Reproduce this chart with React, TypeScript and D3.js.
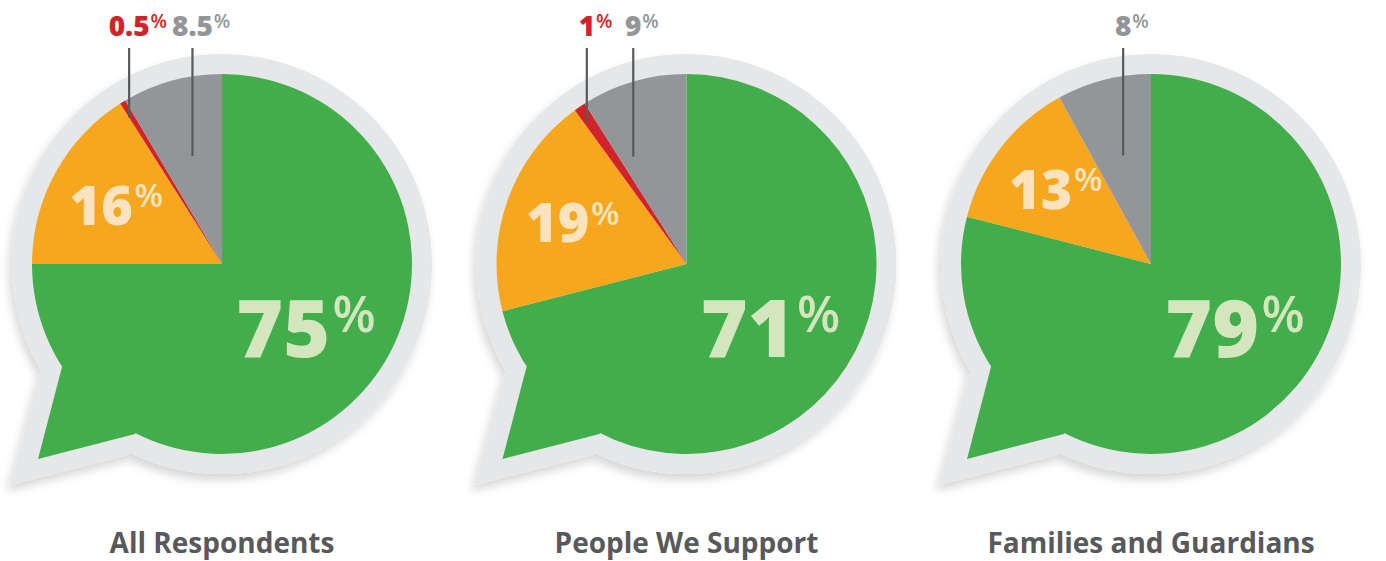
import React, { useEffect, useRef } from "react";
import * as d3 from "d3";

// ---- data ----
const CATEGORIES = ["All Respondents", "People We Support", "Families and Guardians"];
const GREEN_VALUES = [75, 71, 79];
const ORANGE_VALUES = [16, 19, 13];
const RED_VALUES = [0.5, 1, 0];
const GRAY_VALUES = [8.5, 9, 8];

// ---- style / layout ----
const W = 1386;
const H = 561;
const CY = 264;
const R = 190;
const RB = 210;
const COLORS = ["#41ae4b", "#f6a71e", "#d2232a", "#939598"];
const BUBBLE = "#e6e7e8";
const DARK = "#58595b";
const FONT = "'Open Sans', 'Noto Sans', sans-serif";
const TAIL_OUTER: [number, number][] = [[-182, 110], [-212, 221], [-94, 191], [0, 0]];
const TAIL_INNER: [number, number][] = [[-160, 103], [-184, 195], [-87, 170], [0, 0]];
const GRAY_LEADER_NUDGE = [0, -22, 0];

export default function App() {
  const ref = useRef<SVGSVGElement | null>(null);

  useEffect(() => {
    document.body.style.margin = "0";
    const svg = d3.select(ref.current);
    svg.selectAll("*").remove();

    const defs = svg.append("defs");
    const f = defs.append("filter").attr("id", "shadow").attr("x", "-20%").attr("y", "-20%").attr("width", "140%").attr("height", "140%");
    f.append("feDropShadow").attr("dx", -3).attr("dy", 6).attr("stdDeviation", 5).attr("flood-color", "#000").attr("flood-opacity", 0.16);

    const x = d3.scalePoint<string>().domain(CATEGORIES).range([222, 1151]);
    const pie = d3.pie<number>().sort(null).value((d) => d);
    const arc = d3.arc<d3.PieArcDatum<number>>().innerRadius(0).outerRadius(R);
    const line = d3.line();

    const drawLabel = (
      g: any, cx: number, baseline: number, num: string, numSize: number, pctSize: number,
      color: string, mode: "group" | "number"
    ) => {
      const t = g.append("text").text(num).attr("font-family", FONT).attr("font-weight", 800)
        .attr("font-size", numSize).attr("fill", color).attr("y", baseline);
      const p = g.append("text").text("%").attr("font-family", FONT).attr("font-weight", 600)
        .attr("font-size", pctSize).attr("fill", color);
      const w = (t.node() as SVGTextElement).getComputedTextLength();
      const pw = (p.node() as SVGTextElement).getComputedTextLength();
      const gap = numSize * 0.03;
      const start = mode === "group" ? cx - (w + gap + pw) / 2 : cx - w / 2;
      t.attr("x", start);
      p.attr("x", start + w + gap).attr("y", baseline - 0.714 * (numSize - pctSize) - numSize * 0.05);
    };

    CATEGORIES.forEach((cat, i) => {
      const cx = x(cat) as number;
      const values = [GREEN_VALUES[i], ORANGE_VALUES[i], RED_VALUES[i], GRAY_VALUES[i]];
      const arcs = pie(values);

      const g = svg.append("g").attr("transform", `translate(${cx},${CY})`);

      const bub = g.append("g").attr("filter", "url(#shadow)");
      bub.append("circle").attr("r", RB).attr("fill", BUBBLE);
      bub.append("path").attr("d", line(TAIL_OUTER) + "Z").attr("fill", BUBBLE);

      g.append("path").attr("d", line(TAIL_INNER) + "Z").attr("fill", COLORS[0]);

      g.selectAll("path.slice")
        .data(arcs.filter((a) => a.value > 0))
        .join("path")
        .attr("class", "slice")
        .attr("d", arc as any)
        .attr("fill", (d) => COLORS[d.index]);

      // green label
      drawLabel(g, 84, 93, String(values[0]), 80, 50, "#d3e6be", "group");

      // orange label at centroid
      const oc = d3.arc<d3.PieArcDatum<number>>().innerRadius(123).outerRadius(123).centroid(arcs[1]);
      drawLabel(g, oc[0] + 2, oc[1] + 20, String(values[1]), 54, 33, "#fbe3bf", "group");

      // leader labels (red, gray)
      const top = 48 - CY;
      const labelBase = 36 - CY;
      const leaders: { idx: number; r: number; nudge: number; color: string }[] = [
        { idx: 2, r: 172, nudge: -3, color: COLORS[2] },
        { idx: 3, r: 112, nudge: GRAY_LEADER_NUDGE[i], color: COLORS[3] },
      ];
      leaders.forEach(({ idx, r, nudge, color }) => {
        if (!(values[idx] > 0)) return;
        const c = d3.arc<d3.PieArcDatum<number>>().innerRadius(r).outerRadius(r).centroid(arcs[idx]);
        const lx = c[0] + nudge;
        g.append("line").attr("x1", lx).attr("x2", lx).attr("y1", top).attr("y2", c[1])
          .attr("stroke", DARK).attr("stroke-width", 2.2);
        drawLabel(g, lx, labelBase, String(values[idx]), 28, 19, color, "number");
      });

      // title
      svg.append("text").text(cat).attr("x", cx).attr("y", 553).attr("text-anchor", "middle")
        .attr("font-family", FONT).attr("font-weight", 700).attr("font-size", 28).attr("fill", DARK);
    });
  }, []);

  return <svg ref={ref} width={W} height={H} style={{ display: "block", background: "#fff" }} />;
}
